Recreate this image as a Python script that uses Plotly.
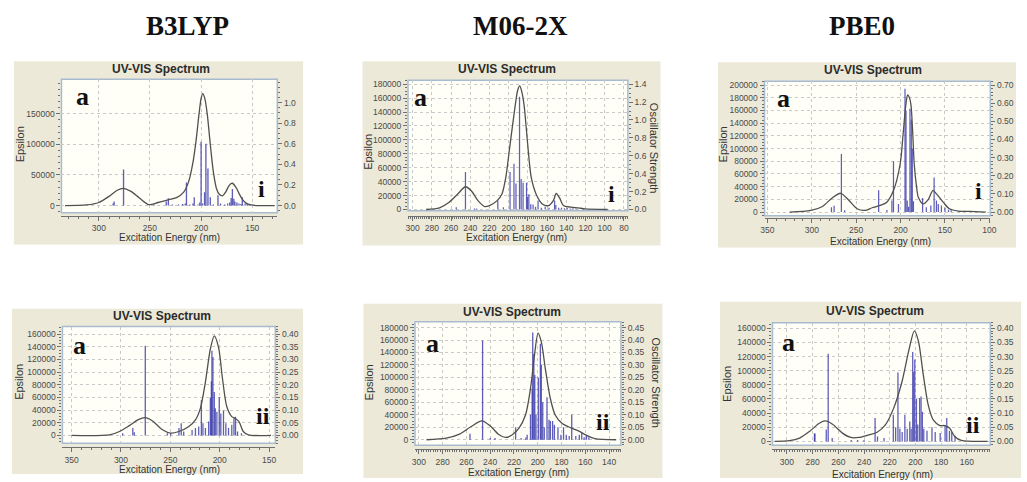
import plotly.graph_objects as go

W, H = 1027, 482

# ---------------- text ----------------
method_names = ["B3LYP", "M06-2X", "PBE0"]
panel_tags = ["i", "i", "i", "ii", "ii", "ii"]
panel_letter = "a"
chart_title = "UV-VIS Spectrum"
x_title = "Excitation Energy (nm)"
y_title = "Epsilon"
y2_title = "Oscillator Strength"

# ---------------- data: broadened spectra (nm, epsilon) ----------------
b3lyp_i_nm = [333, 312, 300, 290, 282, 276, 269, 260, 251, 242, 233, 224, 217, 212, 208, 205, 202, 200,
              198.4, 196.5, 194, 191, 188, 185, 182, 179, 176, 172.5, 169.5, 166, 163, 160, 156, 151, 146, 128]
b3lyp_i_eps = [0, 1000, 5000, 15000, 25000, 28000, 23500, 12000, 1500, 5000, 9000, 13000, 22000, 40000,
               70000, 105000, 150000, 175000, 183000, 176000, 150000, 100000, 55000, 28000, 18000, 16000,
               22000, 33000, 36500, 30000, 20000, 11000, 4000, 1000, 0, 0]

m062x_i_nm = [286, 272, 262, 253, 245, 239, 232, 225, 220, 212, 207, 203, 199, 194.5, 190.5, 188.5, 186.5,
              184, 180.5, 176.5, 171.5, 165, 158.5, 153.5, 150.5, 147, 143, 135, 127.5, 120.5, 97]
m062x_i_eps = [0, 2400, 10400, 22300, 32700, 27000, 12800, 4300, 5700, 12800, 22300, 46000, 88600, 136000,
               172000, 177500, 170000, 150200, 98000, 46000, 22300, 8000, 5700, 12800, 23000, 16600, 5700,
               3300, 2400, 950, 0]

pbe0_i_nm = [325, 301, 288, 277, 267.5, 258, 249, 240, 232, 223, 215.5, 208, 200.5, 197, 194, 192, 190, 188.3,
             186.5, 184.6, 182, 180, 174.5, 169, 163.5, 159.5, 152, 145, 135, 122, 104]
pbe0_i_eps = [0, 2600, 8800, 22300, 29600, 18200, 5200, 2600, 6800, 10400, 15600, 33800, 75300, 125000,
              170000, 184400, 180000, 168800, 130000, 75300, 40000, 23400, 13000, 19200, 34000, 28600,
              15600, 5200, 1600, 1000, 0]

b3lyp_ii_nm = [350, 311.5, 301.5, 291.5, 283, 275.4, 268, 258, 249.7, 241.3, 231.3, 224.6, 219.6, 214.5,
               209.5, 205.5, 201.2, 197.2, 192.8, 187.8, 184.6, 180.5, 176.2, 171, 148]
b3lyp_ii_eps = [0, 1000, 6250, 15600, 24500, 28100, 22900, 8900, 3650, 6250, 14100, 24500, 42700, 84400,
                136600, 157400, 139200, 89600, 45300, 29700, 27100, 21900, 6250, 1000, 0]

m062x_ii_nm = [293.6, 277, 265.8, 256, 247, 239.4, 232.5, 227, 221.4, 215.8, 210.3, 206.1, 202.8, 199.7,
               196.9, 193.6, 189.4, 185.3, 179.7, 172.8, 165.8, 158.9, 151.9, 134]
m062x_ii_eps = [0, 2600, 9000, 21200, 30200, 21200, 7900, 3700, 7900, 18500, 39700, 82100, 135000, 171000,
                156200, 113800, 66200, 39700, 26500, 19600, 14300, 6900, 1600, 0]

pbe0_ii_nm = [309.5, 298, 290.2, 282.5, 274.8, 270.2, 264.5, 256.8, 250.4, 244, 236.2, 229.8, 223.4, 217,
              210.5, 204.9, 200.8, 197.7, 193.8, 190, 186.1, 181, 177.1, 173.3, 169.4, 164.3, 143.7]
pbe0_ii_eps = [0, 930, 4700, 14000, 25700, 28900, 24300, 11700, 5600, 5600, 9300, 13000, 23300, 46700,
               84000, 130600, 156300, 142300, 93300, 51300, 30300, 22400, 22400, 18700, 7000, 1400, 0]

# ---------------- data: transitions (nm, oscillator strength) ----------------
b3lyp_i_stick_nm = [286, 285, 275.8, 246, 234, 232, 228, 222, 218, 215.5, 214.3, 211, 208, 206.7, 203, 201.3,
                    200, 198.5, 196.6, 195.3, 193.3, 191, 188, 183.5, 181, 177, 174, 172, 170.6, 169.4, 168,
                    167, 165, 163, 161, 159.7, 157, 155, 152]
b3lyp_i_stick_osc = [0.02, 0.04, 0.35, 0.01, 0.04, 0.07, 0.01, 0.01, 0.015, 0.02, 0.225, 0.01, 0.02, 0.08,
                     0.01, 0.03, 0.62, 0.02, 0.13, 0.6, 0.36, 0.08, 0.01, 0.1, 0.02, 0.01, 0.02, 0.03, 0.074,
                     0.16, 0.067, 0.04, 0.03, 0.02, 0.015, 0.08, 0.02, 0.015, 0.01]

m062x_i_stick_nm = [254.6, 245, 235.7, 233.3, 211.3, 205.5, 198.6, 194.5, 192.4, 188.7, 187, 185, 181.4,
                    180.4, 179, 177, 174.6, 172, 169.4, 166, 162, 158, 152.2, 150.9, 148, 145, 142, 139,
                    136, 133, 130]
m062x_i_stick_osc = [0.026, 0.42, 0.01, 0.01, 0.1, 0.026, 0.42, 0.51, 0.29, 1.26, 0.34, 0.3, 0.3, 0.14, 0.17,
                     0.06, 0.055, 0.03, 0.1, 0.02, 0.03, 0.02, 0.1, 0.05, 0.02, 0.02, 0.015, 0.02, 0.01,
                     0.015, 0.01]

pbe0_i_stick_nm = [277.9, 274.9, 266.7, 263, 224.7, 215.4, 209.8, 208, 202.4, 195, 193.9, 192.5, 191, 189.4,
                   187.9, 186.8, 185.5, 175.2, 171, 165.9, 162.2, 159.6, 157.5, 154, 150, 146, 143]
pbe0_i_stick_osc = [0.027, 0.035, 0.32, 0.01, 0.12, 0.012, 0.064, 0.28, 0.045, 0.68, 0.56, 0.064, 0.03,
                    0.57, 0.51, 0.35, 0.06, 0.078, 0.027, 0.036, 0.19, 0.064, 0.045, 0.036, 0.024, 0.013, 0.01]

b3lyp_ii_stick_nm = [298.3, 288, 286.5, 275.4, 253, 249.7, 241.3, 239, 236.5, 228, 224.6, 221.3, 218.6, 217,
                     214.5, 211.2, 209.5, 208.5, 207.9, 206.9, 205.5, 204.5, 202.9, 200.5, 198.9, 196.2,
                     193.8, 191.1, 187.8, 185.6, 184, 182, 178]
b3lyp_ii_stick_osc = [0.009, 0.029, 0.013, 0.354, 0.009, 0.009, 0.029, 0.048, 0.016, 0.022, 0.029, 0.035,
                      0.139, 0.048, 0.029, 0.055, 0.15, 0.214, 0.335, 0.31, 0.172, 0.107, 0.094, 0.152,
                      0.087, 0.1, 0.048, 0.029, 0.042, 0.068, 0.074, 0.016, 0.009]

m062x_ii_stick_nm = [257, 246.4, 240, 236, 218.6, 214, 210, 208.9, 206.1, 204.7, 204.2, 203.3, 202.5, 201.5,
                     199.5, 197.8, 197, 195.8, 194.5, 192.2, 190.5, 189.4, 187.5, 186, 183, 180.5, 178.3,
                     176, 173.5, 171.4, 168, 165, 163, 161, 159, 157]
m062x_ii_stick_osc = [0.024, 0.398, 0.007, 0.007, 0.05, 0.007, 0.009, 0.02, 0.1, 0.205, 0.43, 0.344, 0.26,
                      0.1, 0.25, 0.385, 0.3, 0.15, 0.05, 0.17, 0.08, 0.075, 0.075, 0.06, 0.05, 0.02, 0.05,
                      0.02, 0.015, 0.1, 0.015, 0.02, 0.028, 0.01, 0.015, 0.01]

pbe0_ii_stick_nm = [278.6, 278.2, 269.4, 267.9, 264.8, 250, 245, 240, 231.4, 229.5, 224.4, 217.2, 215.4,
                    213.6, 212.1, 210.3, 208.2, 206.4, 204.4, 203.3, 202.1, 201.3, 200.5, 199.2, 198.2,
                    196.7, 195.6, 194.6, 193.5, 191, 187.1, 184.6, 180.7, 176.9, 175.6, 173.5, 171.7, 169.1]
pbe0_ii_stick_osc = [0.028, 0.028, 0.042, 0.31, 0.012, 0.005, 0.005, 0.005, 0.083, 0.017, 0.012, 0.094,
                     0.05, 0.244, 0.045, 0.033, 0.094, 0.045, 0.07, 0.045, 0.316, 0.246, 0.29, 0.15, 0.06,
                     0.153, 0.159, 0.105, 0.045, 0.038, 0.05, 0.033, 0.03, 0.054, 0.083, 0.038, 0.033, 0.02]

curves = [(b3lyp_i_nm, b3lyp_i_eps), (m062x_i_nm, m062x_i_eps), (pbe0_i_nm, pbe0_i_eps),
          (b3lyp_ii_nm, b3lyp_ii_eps), (m062x_ii_nm, m062x_ii_eps), (pbe0_ii_nm, pbe0_ii_eps)]
sticks = [(b3lyp_i_stick_nm, b3lyp_i_stick_osc), (m062x_i_stick_nm, m062x_i_stick_osc),
          (pbe0_i_stick_nm, pbe0_i_stick_osc), (b3lyp_ii_stick_nm, b3lyp_ii_stick_osc),
          (m062x_ii_stick_nm, m062x_ii_stick_osc), (pbe0_ii_stick_nm, pbe0_ii_stick_osc)]

specs = [
    dict(box=(10, 61, 302, 246), frame=(58, 79, 276, 214), xline=217, xr=(336.5, 125.5), yr=(-11800, 206600),
         scale=168300, xdt=50, xminor=10, ydt=50000, ytop=150000, yminor=10000, y2dt=0.2, y2top=1.0,
         y2minor=0.05, y2fmt=".1f", barw=1.3,
         title=(159, 69), xt=(167, 239), yt=(17, 145), y2t=None, a=(79, 96), tag=(260, 190)),
    dict(box=(362, 61, 663, 247), frame=(408, 80, 630, 212), xline=217, xr=(304.8, 75.9), yr=(-1850, 185700),
         scale=128571, xdt=20, xminor=2, ydt=20000, ytop=180000, yminor=5000, y2dt=0.2, y2top=1.4,
         y2minor=0.05, y2fmt=".1f", barw=1.3,
         title=(508, 69), xt=(518, 239), yt=(368, 152), y2t=(656, 148), a=(421, 98), tag=(613, 195)),
    dict(box=(721, 62, 1022, 249), frame=(768, 81, 996, 217), xline=219, xr=(353.3, 98.9), yr=(-5800, 206200),
         scale=285714, xdt=50, xminor=10, ydt=20000, ytop=200000, yminor=5000, y2dt=0.1, y2top=0.7,
         y2minor=0.02, y2fmt=".2f", barw=1.4,
         title=(878, 70), xt=(885, 243), yt=(727, 145), y2t=None, a=(787, 99), tag=(984, 192)),
    dict(box=(8, 311, 302, 478), frame=(59, 329, 274, 447), xline=451, xr=(359.3, 143.7), yr=(-12500, 172000),
         scale=400000, xdt=50, xminor=10, ydt=20000, ytop=160000, yminor=5000, y2dt=0.05, y2top=0.4,
         y2minor=0.01, y2fmt=".2f", barw=1.3,
         title=(160, 318), xt=(167, 473), yt=(15, 385), y2t=None, a=(76, 348), tag=(262, 419)),
    dict(box=(363, 306, 665, 482), frame=(415, 324, 623, 449), xline=453, xr=(303.3, 130), yr=(-9000, 189500),
         scale=400000, xdt=20, xminor=2, ydt=20000, ytop=180000, yminor=5000, y2dt=0.05, y2top=0.45,
         y2minor=0.01, y2fmt=".2f", barw=1.1,
         title=(513, 314), xt=(520, 476), yt=(369, 385), y2t=(658, 385), a=(433, 346), tag=(605, 425)),
    dict(box=(723, 304, 1027, 482), frame=(776, 325, 996, 449), xline=453, xr=(311.3, 141.7), yr=(-5600, 168000),
         scale=400000, xdt=20, xminor=2, ydt=20000, ytop=160000, yminor=5000, y2dt=0.05, y2top=0.4,
         y2minor=0.01, y2fmt=".2f", barw=1.0,
         title=(880, 313), xt=(887, 478), yt=(730, 387), y2t=None, a=(792, 345), tag=(979, 428)),
]
header_pos = [(185, 25), (522, 25), (866, 25)]

SANS = "Liberation Sans, Arial, sans-serif"
SERIF = "Liberation Serif, Times New Roman, serif"
BEIGE = "#ECE9D8"
IVORY = "#FFFFF7"
FRAME = "#A7BBD0"
AXC = "#707070"
GRID = "#C9C9C9"
TICKF = dict(family=SANS, size=8.5, color="#4a4a4a")


def fx(x):
    return x / W


def fy(y):
    return 1 - y / H


def ticks_upto(top, step):
    n = int(round(top / step))
    return [round(i * step, 6) for i in range(n + 1)]


def ann(text, x, y, size, family, color, angle=0):
    return dict(text=text, x=fx(x), y=fy(y), xref="paper", yref="paper", showarrow=False,
                xanchor="center", yanchor="middle", textangle=angle,
                font=dict(size=size, family=family, color=color))


fig = go.Figure()
shapes, annotations = [], []
layout = {}

for k, s in enumerate(specs):
    xn = k + 1
    yb = 2 * k + 1      # base axis: oscillator strength (right)
    yo = 2 * k + 2      # overlay axis: epsilon (left)
    xref = "x" if xn == 1 else f"x{xn}"
    ybref = "y" if yb == 1 else f"y{yb}"
    yoref = f"y{yo}"
    xkey = "xaxis" if xn == 1 else f"xaxis{xn}"
    ybkey = "yaxis" if yb == 1 else f"yaxis{yb}"
    yokey = f"yaxis{yo}"

    bx0, by0, bx1, by1 = s["box"]
    fx0, fy0, fx1, fy1 = s["frame"]
    shapes.append(dict(type="rect", xref="paper", yref="paper", x0=fx(bx0), x1=fx(bx1), y0=fy(by1), y1=fy(by0),
                       fillcolor=BEIGE, line=dict(width=0), layer="below"))
    shapes.append(dict(type="rect", xref="paper", yref="paper", x0=fx(fx0), x1=fx(fx1), y0=fy(fy1), y1=fy(fy0),
                       fillcolor=IVORY, line=dict(color=FRAME, width=1.5), layer="below"))

    layout[xkey] = dict(domain=[fx(fx0), fx(fx1)], range=list(s["xr"]), anchor="free", position=fy(s["xline"]),
                        showline=True, linecolor=AXC, linewidth=1, ticks="outside", ticklen=4, tickcolor=AXC,
                        dtick=s["xdt"], tick0=0, tickfont=TICKF, showgrid=True, gridcolor=GRID, griddash="dot",
                        gridwidth=1, zeroline=False,
                        minor=dict(dtick=s["xminor"], ticks="outside", ticklen=2, tickcolor=AXC, showgrid=False))
    y2r = [s["yr"][0] / s["scale"], s["yr"][1] / s["scale"]]
    y2vals = ticks_upto(s["y2top"], s["y2dt"])
    layout[ybkey] = dict(domain=[fy(fy1), fy(fy0)], range=y2r, anchor=xref, side="right", showgrid=False,
                         zeroline=False, ticks="outside", ticklen=4, tickcolor=AXC, tickmode="array",
                         tickvals=y2vals, ticktext=[format(v, s["y2fmt"]) for v in y2vals],
                         tickfont=TICKF, showline=False,
                         minor=dict(dtick=s["y2minor"], tick0=0, ticks="outside", ticklen=2, tickcolor=AXC,
                                    showgrid=False))
    yvals = ticks_upto(s["ytop"], s["ydt"])
    layout[yokey] = dict(range=list(s["yr"]), anchor=xref, overlaying=ybref, side="left", showgrid=True,
                         gridcolor=GRID, griddash="dot", gridwidth=1, zeroline=False, ticks="outside", ticklen=4,
                         tickcolor=AXC, tickmode="array", tickvals=yvals, ticktext=[str(int(v)) for v in yvals],
                         tickfont=TICKF, showline=False,
                         minor=dict(dtick=s["yminor"], tick0=0, ticks="outside", ticklen=2, tickcolor=AXC,
                                    showgrid=False))

    snm, sosc = sticks[k]
    fig.add_trace(go.Bar(x=snm, y=sosc, width=[s["barw"]] * len(snm), xaxis=xref, yaxis=ybref,
                         marker=dict(color="rgba(58,58,172,0.82)", line=dict(width=0)), showlegend=False))
    cnm, ceps = curves[k]
    fig.add_trace(go.Scatter(x=cnm, y=ceps, mode="lines", xaxis=xref, yaxis=yoref, showlegend=False,
                             line=dict(color="#505050", width=1.3, shape="spline", smoothing=0.8)))

    annotations.append(ann(f"<b>{chart_title}</b>", *s["title"], 12, SANS, "#2b2b2b"))
    annotations.append(ann(x_title, *s["xt"], 10, SANS, "#333333"))
    annotations.append(ann(y_title, *s["yt"], 11, SANS, "#333333", angle=-90))
    if s["y2t"]:
        annotations.append(ann(y2_title, *s["y2t"], 11, SANS, "#333333", angle=90))
    annotations.append(ann(f"<b>{panel_letter}</b>", *s["a"], 26, SERIF, "#111111"))
    annotations.append(ann(f"<b>{panel_tags[k]}</b>", *s["tag"], 24, SERIF, "#111111"))

for name, (hx, hy) in zip(method_names, header_pos):
    annotations.append(ann(f"<b>{name}</b>", hx, hy, 27, SERIF, "#111111"))

fig.update_layout(width=W, height=H, margin=dict(l=0, r=0, t=0, b=0), paper_bgcolor="white",
                  plot_bgcolor="rgba(0,0,0,0)", barmode="overlay", showlegend=False,
                  shapes=shapes, annotations=annotations, **layout)

fig.write_html("out.html")
